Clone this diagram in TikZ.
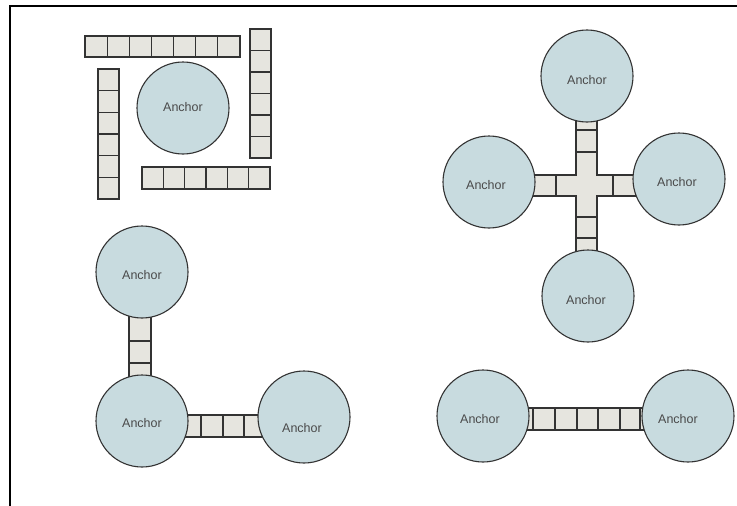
\documentclass[tikz,border=0pt]{standalone}
\usepackage{fontspec}
\setmainfont{Liberation Sans}
\definecolor{anchorfill}{HTML}{C8DBDF}
\definecolor{cellfill}{HTML}{E6E5DF}
\definecolor{edge}{HTML}{333333}
\definecolor{txt}{HTML}{4A4A4A}
\tikzset{
  anchorc/.style={circle, draw=edge, fill=anchorfill, line width=1.1pt, minimum size=92pt, inner sep=0pt},
  anchortxt/.style={text=txt, font=\fontsize{12.5}{14}\selectfont, inner sep=0pt},
  cellbar/.style={draw=edge, fill=cellfill, line width=1.2pt},
  cellline/.style={draw=edge, line width=1.2pt},
  frameline/.style={draw=black, line width=1.4pt}
}
\begin{document}
\begin{tikzpicture}[x=1pt,y=-1pt]
\useasboundingbox (0,0) rectangle (737,506);
% frame
\draw[frameline] (737,6) -- (10,6) -- (10,506);

% ---------- top-left group ----------
\draw[cellbar] (85,36) rectangle (240,57);
\foreach \i in {1,...,6} \draw[cellline] ({85+\i*155/7},36) -- ({85+\i*155/7},57);
\draw[cellbar] (250,29) rectangle (271,158);
\foreach \i in {1,...,5} \draw[cellline] (250,{29+\i*129/6}) -- (271,{29+\i*129/6});
\draw[cellbar] (98,69) rectangle (119,199);
\foreach \i in {1,...,5} \draw[cellline] (98,{69+\i*130/6}) -- (119,{69+\i*130/6});
\draw[cellbar] (142,167) rectangle (270,189);
\foreach \i in {1,...,5} \draw[cellline] ({142+\i*128/6},167) -- ({142+\i*128/6},189);
\node[anchorc] (tl) at (183,108) {};
\node[anchortxt] (tlt) at (183,107) {Anchor};

% ---------- cross group ----------
\draw[cellbar] (576,110) -- (597,110) -- (597,175) -- (645,175) -- (645,196) -- (597,196)
  -- (597,260) -- (576,260) -- (576,196) -- (525,196) -- (525,175) -- (576,175) -- cycle;
\draw[cellline] (576,130) -- (597,130);
\draw[cellline] (576,152) -- (597,152);
\draw[cellline] (576,217) -- (597,217);
\draw[cellline] (576,238) -- (597,238);
\draw[cellline] (556,175) -- (556,196);
\draw[cellline] (613,175) -- (613,196);
\node[anchorc] (ct) at (587,76) {};
\node[anchortxt] (ctt) at (587,80) {Anchor};
\node[anchorc] (cl) at (489,182) {};
\node[anchortxt] (clt) at (486,185) {Anchor};
\node[anchorc] (cr) at (679,179) {};
\node[anchortxt] (crt) at (677,182) {Anchor};
\node[anchorc] (cb) at (588,296) {};
\node[anchortxt] (cbt) at (586,300) {Anchor};

% ---------- bottom-left group ----------
\draw[cellbar] (129,305) rectangle (151,385);
\draw[cellline] (129,341) -- (151,341);
\draw[cellline] (129,363) -- (151,363);
\draw[cellbar] (180,415) rectangle (265,437);
\foreach \x in {201,223,244} \draw[cellline] (\x,415) -- (\x,437);
\node[anchorc] (blt) at (142,272) {};
\node[anchortxt] (bltt) at (142,275) {Anchor};
\node[anchorc] (blm) at (142,421) {};
\node[anchortxt] (blmt) at (142,423) {Anchor};
\node[anchorc] (blr) at (304,417) {};
\node[anchortxt] (blrt) at (302,428) {Anchor};

% ---------- bottom-right group ----------
\draw[cellbar] (520,408) rectangle (650,430);
\foreach \x in {533,555,577,598,620,640} \draw[cellline] (\x,408) -- (\x,430);
\node[anchorc] (brl) at (483,416) {};
\node[anchortxt] (brlt) at (480,419) {Anchor};
\node[anchorc] (brr) at (688,416) {};
\node[anchortxt] (brrt) at (678,419) {Anchor};
\end{tikzpicture}
\end{document}
